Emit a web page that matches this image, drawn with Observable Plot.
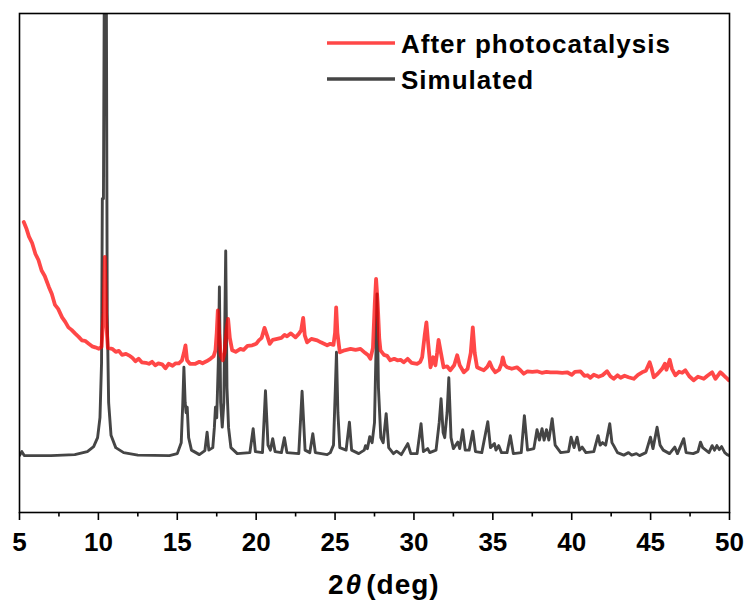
<!DOCTYPE html>
<html>
<head>
<meta charset="utf-8">
<script src="https://cdn.jsdelivr.net/npm/d3@7"></script>
<script src="https://cdn.jsdelivr.net/npm/@observablehq/plot@0.6"></script>
<style>
  html, body { margin: 0; padding: 0; background: #fff; }
  #chart svg { display: block; }
</style>
</head>
<body>
<div id="chart"></div>
<script>
// ---- Data ----
const seriesNames = ["After photocatalysis", "Simulated"];
const majorTicks = [5, 10, 15, 20, 25, 30, 35, 40, 45, 50];
const minorTicks = [7.5, 12.5, 17.5, 22.5, 27.5, 32.5, 37.5, 42.5, 47.5];

// Simulated pattern: 2θ (deg) and intensity (a.u.)
const simX = [5.0,5.15,5.3,7,8.5,9.3,9.7,9.95,10.1,10.2,10.25,10.32,10.38,10.5,10.56,10.65,10.8,11.1,11.6,12.5,14.5,15.0,15.25,15.35,15.42,15.5,15.56,15.63,15.72,15.9,16.4,16.75,16.89,17.0,17.25,17.35,17.42,17.5,17.6,17.67,17.75,17.85,17.95,18.07,18.15,18.25,18.4,18.8,19.6,19.81,19.95,20.4,20.59,20.75,20.9,21.05,21.2,21.6,21.79,21.95,22.7,22.91,23.1,23.4,23.59,23.75,24.5,24.7,24.9,25.02,25.09,25.18,25.3,25.7,25.91,26.05,26.5,26.85,26.93,27.05,27.2,27.35,27.5,27.58,27.66,27.75,27.9,28.05,28.24,28.4,28.7,28.9,29.2,29.61,29.8,30.2,30.45,30.6,30.87,31.0,31.4,31.6,31.72,31.85,31.95,32.1,32.21,32.35,32.5,32.78,32.9,33.09,33.25,33.5,33.73,33.9,34.3,34.68,34.85,35.1,35.2,35.37,35.55,35.9,36.11,36.3,36.8,37.0,37.2,37.6,37.8,37.95,38.12,38.25,38.4,38.55,38.76,38.95,39.3,39.8,39.96,40.15,40.34,40.5,40.66,40.9,41.4,41.67,41.8,41.95,42.15,42.41,42.55,42.66,42.9,43.3,43.6,43.8,44.1,44.3,44.7,44.99,45.15,45.41,45.6,45.8,46.2,46.53,46.7,47.1,47.25,47.7,48.0,48.16,48.3,48.5,48.7,48.9,49.05,49.2,49.35,49.5,49.7,49.85,50];
const simY = [11.4,12.2,11.4,11.4,11.6,12.2,13.2,15,19,30,62.9,62.9,110,110,40,22,15.5,13,12,11.5,11.4,11.8,14,22,29.1,22,20,21.1,15,12.5,11.6,12.4,16.1,12.5,13,17,21.1,19,30,45.2,22,17.1,22,52.4,25,17,13,11.8,12,16.8,12.2,12,24.4,13.5,12.5,14.8,12.2,12,15.0,12,11.8,24.3,12.5,12,15.8,12,11.6,12,13.5,25,32.1,20,13,12.5,18.1,12.5,11.8,12.5,13.4,12.8,15.2,14,18,30,43.8,25,15,14,19.8,13,11.8,12.3,11.6,13.8,11.8,11.8,17.8,12.2,12.8,12,12.5,18,22.8,16,15,20,27.0,15,12.8,14.1,12.8,16.6,12.5,12.5,16.3,12.2,12,18.2,13,13.8,12.5,13.4,12,12,15.4,11.8,12,19.4,12.5,12.8,16.6,14.5,16.8,14.5,16.6,14.5,18.8,13.5,12,12.2,15.1,13,15.1,12.5,13.1,12,12.2,15.4,13.5,14,13.5,17.8,14,13.4,12,11.5,12,11.5,11.8,11.4,12,15.1,12.8,17.1,13.5,12.5,11.8,13.1,11.8,14.8,12,11.8,12.2,14.1,13,12.5,12,13.4,12.5,13.4,12.6,13.2,12,11.6,11.4];

// After photocatalysis (measured): 2θ (deg) and intensity (a.u.)
const expX = [5.27,5.45,5.6,5.8,6.01,6.2,6.4,6.6,6.86,7.05,7.25,7.45,7.7,7.9,8.1,8.3,8.55,8.75,8.95,9.15,9.39,9.6,9.8,10.03,10.2,10.33,10.41,10.5,10.6,10.87,11.1,11.3,11.5,11.75,11.93,12.15,12.35,12.55,12.75,13.0,13.2,13.4,13.6,13.8,14.04,14.25,14.45,14.7,14.9,15.1,15.3,15.42,15.52,15.62,15.8,16.15,16.4,16.6,16.85,17.1,17.3,17.42,17.5,17.57,17.65,17.75,17.88,18.0,18.12,18.22,18.33,18.48,18.7,19.0,19.2,19.45,19.75,20.0,20.17,20.35,20.53,20.7,20.86,21.05,21.33,21.6,21.8,21.96,22.2,22.49,22.7,22.85,22.98,23.08,23.23,23.5,23.87,24.1,24.3,24.5,24.7,24.9,25.0,25.07,25.15,25.3,25.6,25.98,26.3,26.61,26.9,27.1,27.24,27.4,27.52,27.6,27.7,27.8,27.88,28.1,28.3,28.5,28.75,28.95,29.15,29.35,29.6,29.85,30.2,30.4,30.52,30.68,30.79,30.9,31.05,31.22,31.36,31.47,31.56,31.68,31.88,32.1,32.3,32.55,32.74,32.9,33.16,33.4,33.6,33.73,33.85,34.0,34.2,34.43,34.65,34.8,34.95,35.16,35.4,35.55,35.63,35.75,35.9,36.2,36.53,36.75,36.96,37.2,37.5,37.8,38.1,38.4,38.65,39.07,39.4,39.71,40.0,40.2,40.55,40.8,41.0,41.18,41.4,41.7,41.95,42.24,42.45,42.66,42.9,43.1,43.35,43.6,43.93,44.2,44.46,44.7,44.94,45.05,45.2,45.45,45.73,45.9,46.0,46.21,46.35,46.57,46.8,47.0,47.2,47.45,47.73,48.0,48.2,48.37,48.6,48.9,49.11,49.25,49.42,49.6,49.8,49.95];
const expY = [58.2,56.8,55.3,54.0,51.8,50.6,48.5,47.4,45.2,43.8,41.6,40.8,39.1,38.2,37.1,36.6,35.8,35.2,34.5,34.4,33.8,33.3,33.1,32.8,33.2,40,51.2,38,33,32.8,32.2,32.4,31.6,31.8,31.5,31.0,30.3,30.8,30.1,30.0,29.8,30.2,29.5,29.9,29.7,28.9,29.8,29.4,29.9,29.9,30.5,32,33.5,30.5,29.8,29.8,30.2,29.9,30.3,30.8,31.3,32.5,36,40.5,36,31.5,30.5,32,36.5,38.8,35,32.5,32.2,32.8,32.6,33.4,33.5,33.8,34.5,35,37.0,35.4,33.8,34.6,34.8,35.0,35.6,35.3,35.9,35.1,35.8,36.5,39.0,35.5,34.1,34.8,34.5,34.1,33.8,33.5,33.8,33.6,36,41.1,36,32.1,32.5,32.8,32.6,32.8,32.0,31.5,30.8,33,42,46.8,42,35,32.5,31.6,31.4,30.5,30.8,30.5,30.6,30.1,30.8,30.0,29.8,30.2,31.1,35.5,38.1,34,29.1,31.1,29.5,32,34.6,32.5,29.1,29.3,28.5,29.5,31.5,29.5,28.1,28.8,32,37.1,32,29.1,28.8,28.5,29.2,30.1,29,28.1,28.6,29.8,31.1,29.6,29.1,28.8,29.1,28.5,27.8,28.3,28.2,28.3,28.0,28.2,28.1,28.1,28.0,28.1,27.6,28.2,28.3,27.4,27.5,27.0,27.6,27.2,27.5,28.3,27.3,26.8,27.5,27.0,27.4,27.1,26.8,27.6,28.1,28.4,30.1,29,27.1,27.8,28.8,29.8,28.6,30.6,28.8,27.5,28.2,28.0,28.5,27.3,26.5,27.2,27.0,26.8,27.4,28.1,26.8,27.4,28.1,27.6,27.0,26.5];

// ---- Build tables ----
const sim = simX.map((x, i) => ({x, y: simY[i]}));
const exp = expX.map((x, i) => ({x, y: expY[i]}));

const W = 750, H = 604;
const mL = 19, mR = 21, mT = 13, mB = 92;
const FONT = "'Liberation Sans', Arial, sans-serif";
const GRAY = "#454545";
const RED = "#ff0000";
const RED_OP = 0.72;

const plot = Plot.plot({
  width: W,
  height: H,
  marginLeft: mL,
  marginRight: mR,
  marginTop: mT,
  marginBottom: mB,
  style: {fontFamily: FONT, background: "#fff", overflow: "visible"},
  x: {domain: [5, 50], label: null},
  y: {domain: [0, 100], label: null, axis: null},
  marks: [
    Plot.lineY(sim, {x: "x", y: "y", stroke: GRAY, strokeWidth: 2.9, clip: true, curve: "linear"}),
    Plot.lineY(exp, {x: "x", y: "y", stroke: RED, strokeOpacity: RED_OP, strokeWidth: 3.8, clip: true, curve: "linear"}),
    Plot.axisX({ticks: minorTicks, tickSize: 4.5, tickFormat: () => "", label: null, stroke: "#000", strokeWidth: 1.6}),
    Plot.axisX({ticks: majorTicks, tickSize: 8, tickPadding: 12, stroke: "#000", strokeWidth: 1.6,
      fontSize: 26, fontWeight: "bold", fill: "#000", tickFormat: d => String(d), label: null,
      style: {letterSpacing: "1px"}}),
    Plot.frame({stroke: "#000", strokeWidth: 1.6})
  ]
});

document.getElementById("chart").appendChild(plot);

// ---- Legend and axis label (text drawn as real SVG text) ----
const svg = d3.select(plot);
const lg = svg.append("g").attr("font-family", FONT).attr("font-weight", "bold")
  .attr("font-size", 26).attr("text-anchor", "start");
const legendItems = [
  {name: seriesNames[0], color: RED, op: RED_OP, y: 43},
  {name: seriesNames[1], color: GRAY, op: 1, y: 79}
];
legendItems.forEach(it => {
  lg.append("line").attr("x1", 327).attr("x2", 395).attr("y1", it.y).attr("y2", it.y)
    .attr("stroke", it.color).attr("stroke-opacity", it.op).attr("stroke-width", 3.6);
  lg.append("text").attr("x", 401).attr("y", it.y + 9.5).attr("fill", "#000")
    .style("letter-spacing", "1px").text(it.name);
});

const xl = svg.append("text").attr("font-family", FONT).attr("font-weight", "bold")
  .attr("text-anchor", "start").style("letter-spacing", "1px")
  .attr("font-size", 28).attr("x", 328).attr("y", 594).attr("fill", "#000");
xl.append("tspan").text("2");
xl.append("tspan").attr("font-style", "italic").attr("dx", 1).text("θ");
xl.append("tspan").attr("dx", 4).text("(deg)");
</script>
</body>
</html>
